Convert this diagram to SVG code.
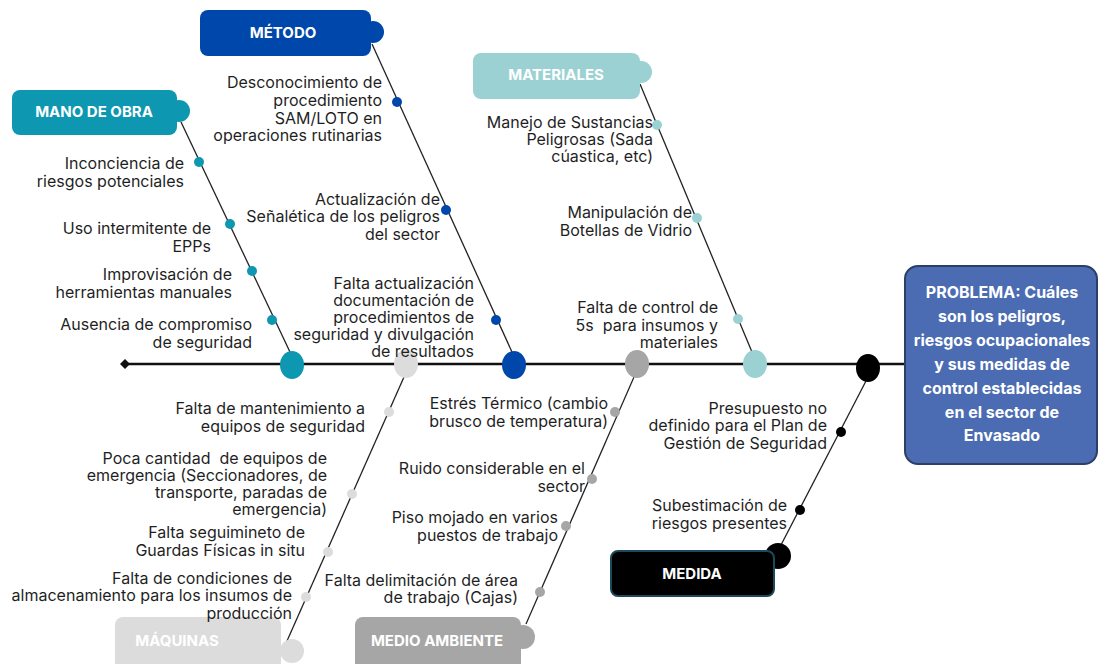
<svg xmlns="http://www.w3.org/2000/svg" width="1098" height="664" viewBox="0 0 1098 664">
<style>
.t{font-family:Inter,"Liberation Sans",sans-serif;font-size:16px;fill:#1f1f1f;text-anchor:end}
.h{font-family:Inter,"Liberation Sans",sans-serif;font-size:15px;font-weight:700;fill:#fff;text-anchor:middle}
.p{font-family:Inter,"Liberation Sans",sans-serif;font-size:16px;font-weight:700;fill:#fff;text-anchor:middle}
.sp{stroke:#222;stroke-width:1.3;fill:none}
</style>
<rect width="1098" height="664" fill="#fff"/>
<g id="connectors">
<line x1="125" y1="364" x2="905" y2="364" stroke="#111" stroke-width="2.6"/>
<path d="M120,364 L125,359 L130,364 L125,369 Z" fill="#111"/>
<line class="sp" x1="181" y1="122" x2="290" y2="352"/>
<line class="sp" x1="372" y1="44" x2="512" y2="352"/>
<line class="sp" x1="640" y1="84" x2="752" y2="352"/>
<line class="sp" x1="404" y1="377" x2="283" y2="650"/>
<line class="sp" x1="634" y1="377" x2="526" y2="624"/>
<line class="sp" x1="866" y1="381" x2="781" y2="545"/>
<ellipse cx="292" cy="365" rx="12" ry="14" fill="#0e97b0"/>
<ellipse cx="406" cy="364" rx="12" ry="14" fill="#dcdcdc"/>
<ellipse cx="514" cy="365" rx="12" ry="14" fill="#0047ab"/>
<ellipse cx="637" cy="364" rx="12" ry="14" fill="#a6a6a6"/>
<ellipse cx="755" cy="364" rx="12" ry="14" fill="#9cd1d3"/>
<ellipse cx="868" cy="368" rx="12" ry="14" fill="#000"/>
</g>
<g id="mano-de-obra">
<circle cx="179" cy="111" r="11" fill="#0e97b0"/>
<rect x="12" y="90" width="165" height="45" rx="8" fill="#0e97b0"/>
<text class="h" x="94" y="117">MANO DE OBRA</text>
<circle cx="199" cy="162" r="5" fill="#0e97b0"/>
<text class="t"><tspan x="184" y="169">Inconciencia de</tspan><tspan x="184" y="187">riesgos potenciales</tspan></text>
<circle cx="230" cy="224" r="5" fill="#0e97b0"/>
<text class="t"><tspan x="211" y="234">Uso intermitente de</tspan><tspan x="211" y="252">EPPs</tspan></text>
<circle cx="252" cy="271" r="5" fill="#0e97b0"/>
<text class="t"><tspan x="232" y="280">Improvisación de</tspan><tspan x="232" y="298">herramientas manuales</tspan></text>
<circle cx="272" cy="320" r="5" fill="#0e97b0"/>
<text class="t"><tspan x="252" y="330">Ausencia de compromiso</tspan><tspan x="252" y="348">de seguridad</tspan></text>
</g>
<g id="metodo">
<circle cx="373" cy="32" r="11" fill="#0047ab"/>
<rect x="200" y="10" width="171" height="46" rx="8" fill="#0047ab"/>
<text class="h" x="283" y="38">MÉTODO</text>
<circle cx="397" cy="102" r="5" fill="#0047ab"/>
<text class="t"><tspan x="382" y="88">Desconocimiento de</tspan><tspan x="382" y="106">procedimiento</tspan><tspan x="382" y="124">SAM/LOTO en</tspan><tspan x="382" y="141">operaciones rutinarias</tspan></text>
<circle cx="446" cy="210" r="5" fill="#0047ab"/>
<text class="t"><tspan x="440" y="205">Actualización de</tspan><tspan x="440" y="222">Señalética de los peligros</tspan><tspan x="440" y="240">del sector</tspan></text>
<circle cx="496" cy="320" r="5" fill="#0047ab"/>
<text class="t"><tspan x="474" y="289">Falta actualización</tspan><tspan x="474" y="306">documentación de</tspan><tspan x="474" y="323">procedimientos de</tspan><tspan x="474" y="340">seguridad y divulgación</tspan><tspan x="474" y="357">de resultados</tspan></text>
</g>
<g id="materiales">
<circle cx="641" cy="72" r="11" fill="#9cd1d3"/>
<rect x="473" y="53" width="167" height="46" rx="8" fill="#9cd1d3"/>
<text class="h" x="556" y="80">MATERIALES</text>
<circle cx="657" cy="125" r="5" fill="#9cd1d3"/>
<text class="t"><tspan x="653" y="128">Manejo de Sustancias</tspan><tspan x="653" y="145">Peligrosas (Sada</tspan><tspan x="653" y="162">cúastica, etc)</tspan></text>
<circle cx="697" cy="218" r="5" fill="#9cd1d3"/>
<text class="t"><tspan x="692" y="218">Manipulación de</tspan><tspan x="692" y="236">Botellas de Vidrio</tspan></text>
<circle cx="738" cy="319" r="5" fill="#9cd1d3"/>
<text class="t" xml:space="preserve"><tspan x="718" y="313">Falta de control de</tspan><tspan x="718" y="331">5s  para insumos y</tspan><tspan x="718" y="348">materiales</tspan></text>
</g>
<g id="maquinas">
<circle cx="292" cy="651" r="12" fill="#dcdcdc"/>
<rect x="115" y="617" width="166" height="60" rx="8" fill="#dcdcdc"/>
<text class="h" x="177" y="646">MÁQUINAS</text>
<circle cx="389" cy="412" r="5" fill="#dcdcdc"/>
<text class="t"><tspan x="365" y="414">Falta de mantenimiento a</tspan><tspan x="365" y="432">equipos de seguridad</tspan></text>
<circle cx="352" cy="494" r="5" fill="#dcdcdc"/>
<text class="t" xml:space="preserve"><tspan x="327" y="464">Poca cantidad  de equipos de</tspan><tspan x="327" y="481">emergencia (Seccionadores, de</tspan><tspan x="327" y="498">transporte, paradas de</tspan><tspan x="327" y="515">emergencia)</tspan></text>
<circle cx="328" cy="552" r="5" fill="#dcdcdc"/>
<text class="t"><tspan x="305" y="538">Falta seguimineto de</tspan><tspan x="305" y="556">Guardas Físicas in situ</tspan></text>
<circle cx="306" cy="597" r="5" fill="#dcdcdc"/>
<text class="t"><tspan x="292" y="584">Falta de condiciones de</tspan><tspan x="292" y="601">almacenamiento para los insumos de</tspan><tspan x="292" y="619">producción</tspan></text>
</g>
<g id="medio-ambiente">
<circle cx="523" cy="637" r="12" fill="#a6a6a6"/>
<rect x="355" y="617" width="166" height="60" rx="8" fill="#a6a6a6"/>
<text class="h" x="437" y="646">MEDIO AMBIENTE</text>
<circle cx="615" cy="412" r="5" fill="#a6a6a6"/>
<text class="t"><tspan x="608" y="409">Estrés Térmico (cambio</tspan><tspan x="608" y="427">brusco de temperatura)</tspan></text>
<circle cx="592" cy="479" r="5" fill="#a6a6a6"/>
<text class="t"><tspan x="585" y="474">Ruido considerable en el</tspan><tspan x="585" y="492">sector</tspan></text>
<circle cx="566" cy="526" r="5" fill="#a6a6a6"/>
<text class="t"><tspan x="558" y="523">Piso mojado en varios</tspan><tspan x="558" y="541">puestos de trabajo</tspan></text>
<circle cx="540" cy="592" r="5" fill="#a6a6a6"/>
<text class="t"><tspan x="518" y="586">Falta delimitación de área</tspan><tspan x="518" y="603">de trabajo (Cajas)</tspan></text>
</g>
<g id="medida">
<circle cx="778" cy="556" r="13" fill="#000"/>
<rect x="611" y="551" width="163" height="45" rx="7" fill="#000" stroke="#1d4a5a" stroke-width="2"/>
<text class="h" x="692" y="579">MEDIDA</text>
<circle cx="841" cy="432" r="5" fill="#000"/>
<text class="t"><tspan x="827" y="414">Presupuesto no</tspan><tspan x="827" y="431">definido para el Plan de</tspan><tspan x="827" y="449">Gestión de Seguridad</tspan></text>
<circle cx="800" cy="510" r="5" fill="#000"/>
<text class="t"><tspan x="787" y="511">Subestimación de</tspan><tspan x="787" y="529">riesgos presentes</tspan></text>
</g>
<g id="problema">
<rect x="905" y="266" width="192" height="198" rx="13" fill="#4b6cb2" stroke="#2c3f66" stroke-width="2"/>
<text class="p"><tspan x="1002" y="298">PROBLEMA: Cuáles</tspan><tspan x="1002" y="322">son los peligros,</tspan><tspan x="1002" y="346">riesgos ocupacionales</tspan><tspan x="1002" y="370">y sus medidas de</tspan><tspan x="1002" y="394">control establecidas</tspan><tspan x="1002" y="418">en el sector de</tspan><tspan x="1002" y="441">Envasado</tspan></text>
</g>
</svg>
